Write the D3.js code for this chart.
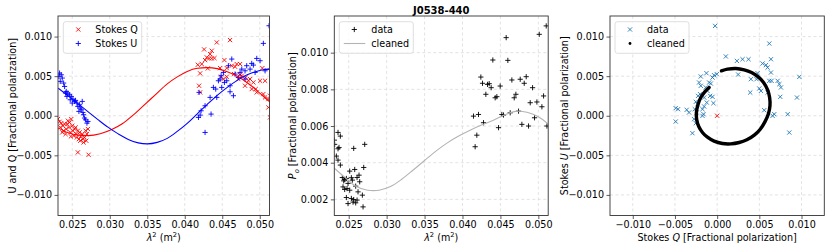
<!DOCTYPE html>
<html><head><meta charset="utf-8">
<script src="https://cdn.jsdelivr.net/npm/d3@7"></script>
<style>
html,body{margin:0;padding:0;background:#fff;}
svg{display:block;font-family:"DejaVu Sans",sans-serif;}
</style></head>
<body><svg id="c" width="830" height="249"></svg>
<script>
// ---------- DATA ----------
const xTicks = [0.025, 0.030, 0.035, 0.040, 0.045, 0.050];
const stokesTicks = [-0.010, -0.005, 0.000, 0.005, 0.010];
const pTicks = [0.002, 0.004, 0.006, 0.008, 0.010];
const qTicks = [-0.010, -0.005, 0.000, 0.005, 0.010];

const lam2Q = [0.02309,0.02331,0.02353,0.02376,0.02398,0.02385,0.02420,0.02442,0.02464,0.02487,0.02500,0.02456,0.02473,0.02509,0.02531,0.02518,0.02553,0.02575,0.02562,0.02598,0.02620,0.02607,0.02642,0.02664,0.02678,0.02696,0.02687,0.02709,0.02651,0.02575,0.02718,0.02367,0.02411,0.02433,0.02544,0.02589,0.02633,0.02482,0.02340,
 0.04427,0.04604,0.04258,0.04360,0.04338,0.04294,0.04325,0.04360,0.04396,0.04271,0.04227,0.04174,0.04205,0.04307,0.04529,0.04471,0.04560,0.04627,0.04671,0.04693,0.04738,0.04658,0.04560,0.04485,0.04516,0.04715,0.04760,0.04813,0.04804,0.04849,0.04915,0.04893,0.04946,0.04960,0.05035,0.05071,0.05004,0.05048,0.05071,0.05115,0.05137,0.05115,0.05137,0.04191,0.04205,0.04738,0.04871];
const stokesQ = [-0.00042,-0.00076,-0.00093,-0.00126,-0.00105,-0.00189,-0.00168,-0.00063,-0.00084,-0.00042,-0.00126,-0.00147,-0.00210,-0.00189,-0.00168,-0.00253,-0.00232,-0.00189,-0.00274,-0.00210,-0.00253,-0.00316,-0.00295,-0.00274,-0.00189,-0.00232,-0.00316,-0.00168,-0.00337,-0.00463,-0.00493,-0.00210,-0.00232,-0.00105,-0.00147,-0.00295,-0.00232,-0.00261,-0.00147,
 0.00926,0.00956,0.00838,0.00821,0.00779,0.00737,0.00724,0.00724,0.00728,0.00703,0.00653,0.00644,0.00535,0.00598,0.00703,0.00602,0.00602,0.00632,0.00619,0.00653,0.00653,0.00526,0.00493,0.00493,0.00463,0.00463,0.00505,0.00484,0.00379,0.00442,0.00421,0.00337,0.00337,0.00295,0.00602,0.00442,0.00442,0.00274,0.00232,0.00211,0.00253,0.00105,-0.00021,0.00379,0.00295,0.00514,0.00463];

const lam2U = [0.02331,0.02353,0.02322,0.02367,0.02340,0.02385,0.02398,0.02420,0.02442,0.02464,0.02487,0.02473,0.02509,0.02531,0.02544,0.02562,0.02575,0.02598,0.02607,0.02620,0.02633,0.02642,0.02651,0.02678,0.02696,0.02709,0.02664,0.02589,0.02500,0.02429,0.02411,
 0.05124,0.05048,0.04960,0.05004,0.04893,0.04826,0.04915,0.04871,0.04804,0.04760,0.04738,0.04671,0.04627,0.04582,0.04516,0.04485,0.04449,0.04471,0.04529,0.04560,0.04382,0.04413,0.04493,0.04338,0.04427,0.04271,0.04218,0.04205,0.04183,0.04351,0.04271,0.04649,0.04604,0.04804,0.04715,0.04938,0.05071,0.05137,0.04191,0.04604];
const stokesU = [0.00539,0.00518,0.00497,0.00476,0.00434,0.00413,0.00370,0.00307,0.00286,0.00265,0.00244,0.00202,0.00211,0.00181,0.00194,0.00160,0.00118,0.00139,0.00097,0.00076,0.00181,0.00042,0.00013,-0.00051,-0.00093,-0.00072,-0.00029,0.00055,0.00160,0.00244,0.00286,
 0.01137,0.00914,0.00724,0.00695,0.00661,0.00632,0.00640,0.00589,0.00568,0.00589,0.00547,0.00526,0.00716,0.00632,0.00547,0.00505,0.00442,0.00463,0.00421,0.00442,0.00358,0.00337,0.00358,0.00232,0.00232,0.00126,0.00063,0.00008,-0.00021,0.00021,-0.00211,0.00253,0.00303,0.00463,0.00484,0.00547,0.00568,0.00589,0.00295,0.00379];

const modelLam2Q = [0.02313,0.02447,0.02580,0.02713,0.02873,0.03033,0.03167,0.03300,0.03447,0.03607,0.03767,0.03900,0.04033,0.04167,0.04300,0.04433,0.04567,0.04700,0.04833,0.04967,0.05047,0.05133];
const modelQ = [-0.00153,-0.00216,-0.00245,-0.00251,-0.00228,-0.00171,-0.00102,-0.00001,0.00125,0.00264,0.00403,0.00491,0.00560,0.00599,0.00608,0.00595,0.00555,0.00498,0.00416,0.00315,0.00245,0.00176];
const modelLam2U = [0.02313,0.02447,0.02580,0.02713,0.02847,0.02980,0.03113,0.03247,0.03380,0.03500,0.03633,0.03767,0.03900,0.04033,0.04167,0.04300,0.04433,0.04567,0.04700,0.04833,0.04967,0.05047,0.05133];
const modelU = [0.00349,0.00251,0.00150,0.00049,-0.00052,-0.00147,-0.00229,-0.00299,-0.00343,-0.00355,-0.00336,-0.00286,-0.00198,-0.00097,0.00024,0.00144,0.00258,0.00359,0.00447,0.00517,0.00561,0.00580,0.00589];

const lam2P = [0.02359,0.02390,0.02315,0.02372,0.02359,0.02566,0.02711,0.02337,0.02359,0.02390,0.02513,0.02579,0.02698,0.02416,0.02447,0.02434,0.02469,0.02535,0.02548,0.02610,0.02636,0.02645,0.02592,0.02491,0.02447,0.02478,0.02623,0.02680,0.02469,0.02535,0.02566,0.02610,0.02557,0.02491,0.02592,0.02689,0.02425,0.02513,0.02311,
 0.05104,0.05012,0.04576,0.04400,0.04598,0.04242,0.04264,0.04330,0.04352,0.04378,0.04497,0.04651,0.04761,0.04840,0.04814,0.04924,0.04308,0.04431,0.04453,0.04682,0.04704,0.04893,0.04981,0.05069,0.05047,0.04145,0.04211,0.04277,0.04519,0.04541,0.04629,0.04739,0.04950,0.04783,0.04871,0.05113,0.04475,0.04167,0.04189];
const polP = [0.00565,0.00545,0.00500,0.00483,0.00476,0.00478,0.00500,0.00436,0.00414,0.00387,0.00354,0.00363,0.00374,0.00319,0.00308,0.00301,0.00314,0.00318,0.00305,0.00319,0.00332,0.00296,0.00272,0.00287,0.00254,0.00259,0.00241,0.00223,0.00210,0.00205,0.00199,0.00196,0.00185,0.00177,0.00181,0.00159,0.00268,0.00250,0.00523,
 0.01146,0.01100,0.01082,0.00960,0.00958,0.00867,0.00833,0.00827,0.00831,0.00809,0.00818,0.00851,0.00855,0.00869,0.00833,0.00809,0.00773,0.00754,0.00760,0.00754,0.00773,0.00727,0.00731,0.00764,0.00705,0.00654,0.00663,0.00618,0.00663,0.00660,0.00672,0.00681,0.00645,0.00609,0.00600,0.00600,0.00591,0.00487,0.00550];

const cleanLam2P = [0.0231,0.0245,0.0260,0.0275,0.0290,0.0305,0.0320,0.0335,0.0350,0.0365,0.0380,0.0395,0.0410,0.0425,0.0440,0.0455,0.0470,0.0485,0.0500,0.0513];
const cleanP = [0.0037,0.0032,0.0027,0.0025,0.0025,0.0027,0.0031,0.0036,0.00412,0.00463,0.00508,0.00545,0.00577,0.00605,0.0063,0.0066,0.0068,0.00675,0.0065,0.0061];

const dataQ = [-0.00024,0.00618,0.00103,0.00234,0.00301,0.00372,0.00539,0.00578,0.00598,0.00638,0.00249,0.00400,0.00479,0.00467,0.00638,0.00618,0.00645,0.00717,0.00737,0.00756,0.00748,0.00946,0.00974,0.00392,0.00499,0.00519,0.00598,0.00558,0.00657,0.00677,0.00836,0.00855,-0.00127,-0.00194,-0.00055,-0.00036,-0.00004,-0.00095,-0.00075,-0.00214,-0.00194,-0.00226,-0.00202,-0.00115,-0.00083,-0.00055,-0.00123,-0.00044,-0.00154,-0.00174,-0.00162,-0.00253,-0.00265,-0.00242,-0.00333,-0.00463,-0.00491,-0.00273,-0.00253,-0.00293,-0.00174,-0.00154,-0.00135,-0.00234,-0.00361,-0.00492];
const dataU = [0.01135,0.00912,0.00749,0.00693,0.00714,0.00714,0.00660,0.00639,0.00609,0.00714,0.00521,0.00462,0.00538,0.00462,0.00546,0.00441,0.00441,0.00441,0.00399,0.00357,0.00239,0.00230,0.00491,0.00293,0.00344,0.00314,0.00293,0.00070,-0.00001,0.00020,0.00020,-0.00212,0.00538,0.00496,0.00483,0.00512,0.00525,0.00420,0.00407,0.00420,0.00378,0.00251,0.00272,0.00314,0.00251,0.00239,0.00167,0.00159,0.00117,0.00083,0.00020,0.00176,0.00083,0.00041,0.00041,0.00083,-0.00073,-0.00043,-0.00094,-0.00220,-0.00001,0.00230,0.00357,0.00146,0.00075,0.00096];

const cleanQ = [-0.00095,-0.00147,-0.00194,-0.00226,-0.00246,-0.00242,-0.00218,-0.00174,-0.00115,-0.00036,0.00063,0.00162,0.00261,0.00352,0.00440,0.00511,0.00566,0.00606,0.00626,0.00622,0.00598,0.00550,0.00487,0.00408,0.00321,0.00222,0.00123,0.00051];
const cleanU = [0.00357,0.00302,0.00230,0.00146,0.00041,-0.00052,-0.00136,-0.00211,-0.00271,-0.00321,-0.00351,-0.00355,-0.00338,-0.00304,-0.00245,-0.00170,-0.00077,0.00020,0.00125,0.00230,0.00327,0.00420,0.00491,0.00546,0.00580,0.00597,0.00588,0.00567];

const originMark = [[0.0, 0.0]];

// ---------- DRAW ----------
const svg = d3.select("#c");
const FS = 9.6;
const Y0 = 16, Y1 = 215.5;
const fmt = v => d3.format(".3f")(v).replace("-", "\u2212");

const panels = [
  {x0:58, x1:269.5, xd:[0.0231,0.0513], yd:[-0.0126,0.0126], xt:xTicks, yt:stokesTicks},
  {x0:334.3, x1:548.2, xd:[0.0231,0.0513], yd:[0.00112,0.0120], xt:xTicks, yt:pTicks},
  {x0:610, x1:824.3, xd:[-0.0127,0.0127], yd:[-0.0126,0.0126], xt:qTicks, yt:stokesTicks}
];

const xMark = "M-2.1,-2.1L2.1,2.1M-2.1,2.1L2.1,-2.1";
const pMark = "M-2.6,0H2.6M0,-2.6V2.6";

panels.forEach((p,i) => {
  p.x = d3.scaleLinear().domain(p.xd).range([p.x0, p.x1]);
  p.y = d3.scaleLinear().domain(p.yd).range([Y1, Y0]);
  const g = svg.append("g");
  p.g = g;
  g.append("g").selectAll("line").data(p.xt).join("line")
    .attr("x1", d=>p.x(d)).attr("x2", d=>p.x(d)).attr("y1", Y0).attr("y2", Y1)
    .attr("stroke", "#dcdcdc").attr("stroke-width", 0.8).attr("stroke-dasharray", "3,2.5");
  g.append("g").selectAll("line").data(p.yt).join("line")
    .attr("y1", d=>p.y(d)).attr("y2", d=>p.y(d)).attr("x1", p.x0).attr("x2", p.x1)
    .attr("stroke", "#dcdcdc").attr("stroke-width", 0.8).attr("stroke-dasharray", "3,2.5");
  const xa = d3.axisBottom(p.x).tickValues(p.xt).tickFormat(fmt).tickSize(3.5).tickPadding(2.5);
  const ya = d3.axisLeft(p.y).tickValues(p.yt).tickFormat(fmt).tickSize(3.5).tickPadding(2.5);
  const gx = g.append("g").attr("transform", `translate(0,${Y1})`).call(xa);
  const gy = g.append("g").attr("transform", `translate(${p.x0},0)`).call(ya);
  [gx, gy].forEach(a => {
    a.select(".domain").remove();
    a.selectAll("text").attr("font-size", FS).attr("font-family", "DejaVu Sans").attr("fill", "#000");
    a.selectAll("line").attr("stroke", "#333").attr("stroke-width", 0.8);
  });
  svg.append("clipPath").attr("id", "clip"+i).append("rect")
    .attr("x", p.x0).attr("y", Y0).attr("width", p.x1-p.x0).attr("height", Y1-Y0);
  p.plot = g.append("g").attr("clip-path", `url(#clip${i})`);
});

// Panel 1
{
  const p = panels[0];
  p.plot.append("g").selectAll("path").data(d3.zip(lam2Q, stokesQ)).join("path")
    .attr("transform", d=>`translate(${p.x(d[0])},${p.y(d[1])})`).attr("d", xMark)
    .attr("stroke", "#ff0000").attr("stroke-width", 0.9).attr("fill", "none");
  p.plot.append("g").selectAll("path").data(d3.zip(lam2U, stokesU)).join("path")
    .attr("transform", d=>`translate(${p.x(d[0])},${p.y(d[1])})`).attr("d", pMark)
    .attr("stroke", "#0000ff").attr("stroke-width", 0.9).attr("fill", "none");
  const lineQ = d3.line().x(d=>p.x(d[0])).y(d=>p.y(d[1])).curve(d3.curveMonotoneX);
  p.plot.append("path").attr("d", lineQ(d3.zip(modelLam2Q, modelQ)))
    .attr("fill","none").attr("stroke","#ff0000").attr("stroke-width",1.1);
  p.plot.append("path").attr("d", lineQ(d3.zip(modelLam2U, modelU)))
    .attr("fill","none").attr("stroke","#0000ff").attr("stroke-width",1.1);
}
// Panel 2
{
  const p = panels[1];
  p.plot.append("g").selectAll("path").data(d3.zip(lam2P, polP)).join("path")
    .attr("transform", d=>`translate(${p.x(d[0])},${p.y(d[1])})`).attr("d", pMark)
    .attr("stroke", "#000").attr("stroke-width", 0.9).attr("fill", "none");
  const line = d3.line().x(d=>p.x(d[0])).y(d=>p.y(d[1])).curve(d3.curveCatmullRom);
  p.plot.append("path").attr("d", line(d3.zip(cleanLam2P, cleanP)))
    .attr("fill","none").attr("stroke","#b4b4b4").attr("stroke-width",1.1);
}
// Panel 3
{
  const p = panels[2];
  p.plot.append("g").selectAll("path").data(d3.zip(dataQ, dataU)).join("path")
    .attr("transform", d=>`translate(${p.x(d[0])},${p.y(d[1])})`).attr("d", xMark)
    .attr("stroke", "#1f77b4").attr("stroke-width", 0.9).attr("fill", "none");
  p.plot.append("g").selectAll("path").data(originMark).join("path")
    .attr("transform", d=>`translate(${p.x(d[0])},${p.y(d[1])})`).attr("d", xMark)
    .attr("stroke", "#ff0000").attr("stroke-width", 0.9).attr("fill", "none");
  const line = d3.line().x(d=>p.x(d[0])).y(d=>p.y(d[1])).curve(d3.curveCatmullRom);
  p.plot.append("path").attr("d", line(d3.zip(cleanQ, cleanU)))
    .attr("fill","none").attr("stroke","#000").attr("stroke-width",3.4).attr("stroke-linecap","round");
}

panels.forEach(p => {
  p.g.append("rect").attr("x", p.x0).attr("y", Y0).attr("width", p.x1-p.x0).attr("height", Y1-Y0)
    .attr("fill","none").attr("stroke","#333").attr("stroke-width",0.9);
});

function xlabel(p, build){
  const t = svg.append("text").attr("x", (p.x0+p.x1)/2).attr("y", 240.5)
    .attr("text-anchor","middle").attr("font-size", FS).attr("fill","#000");
  build(t);
}
function ylabel(x, build){
  const t = svg.append("text").attr("transform", `translate(${x},${(Y0+Y1)/2}) rotate(-90)`)
    .attr("text-anchor","middle").attr("font-size", FS).attr("fill","#000");
  build(t);
}
const lamLabel = t => {
  t.append("tspan").attr("font-style","italic").text("\u03bb");
  t.append("tspan").attr("font-size", FS*0.7).attr("dy", -4).text("2");
  t.append("tspan").attr("dy", 4).text(" (m");
  t.append("tspan").attr("font-size", FS*0.7).attr("dy", -4).text("2");
  t.append("tspan").attr("dy", 4).text(")");
};
xlabel(panels[0], lamLabel);
xlabel(panels[1], lamLabel);
xlabel(panels[2], t => {
  t.append("tspan").text("Stokes ");
  t.append("tspan").attr("font-style","italic").text("Q");
  t.append("tspan").text(" [Fractional polarization]");
});
ylabel(16, t => t.text("U and Q [Fractional polarization]"));
ylabel(296, t => {
  t.append("tspan").attr("font-style","italic").text("P");
  t.append("tspan").attr("font-style","italic").attr("font-size", FS*0.7).attr("dy", 2.5).text("o");
  t.append("tspan").attr("dy", -2.5).text(" [Fractional polarization]");
});
ylabel(568, t => {
  t.append("tspan").text("Stokes ");
  t.append("tspan").attr("font-style","italic").text("U");
  t.append("tspan").text(" [Fractional polarization]");
});

svg.append("text").attr("x", (panels[1].x0+panels[1].x1)/2).attr("y", 13.5)
  .attr("text-anchor","middle").attr("font-size", 10).attr("font-weight","bold").text("J0538-440");

function legend(x, items){
  const g = svg.append("g");
  g.append("rect").attr("x", x).attr("y", 21.7).attr("width", items.w).attr("height", 31.6)
    .attr("rx", 2.5).attr("fill", "#fff").attr("fill-opacity", 0.8).attr("stroke", "#d5d5d5").attr("stroke-width", 0.8);
  items.rows.forEach((r,i) => {
    const cy = 29.5 + i*14;
    if (r.type === "line") {
      g.append("line").attr("x1", x+4.5).attr("x2", x+26).attr("y1", cy).attr("y2", cy)
        .attr("stroke", r.color).attr("stroke-width", 1.1);
    } else if (r.type === "dot") {
      g.append("circle").attr("cx", x+15).attr("cy", cy).attr("r", 1.4).attr("fill", r.color);
    } else {
      g.append("path").attr("transform", `translate(${x+15},${cy})`).attr("d", r.type==="x"?xMark:pMark)
        .attr("stroke", r.color).attr("stroke-width", 0.9).attr("fill","none");
    }
    g.append("text").attr("x", x+32).attr("y", cy+3.5).attr("font-size", FS).text(r.label);
  });
}
legend(63.3, {w:78.4, rows:[{type:"x", color:"#ff0000", label:"Stokes Q"},{type:"+", color:"#0000ff", label:"Stokes U"}]});
legend(339.3, {w:74, rows:[{type:"+", color:"#000", label:"data"},{type:"line", color:"#b4b4b4", label:"cleaned"}]});
legend(615, {w:74, rows:[{type:"x", color:"#1f77b4", label:"data"},{type:"dot", color:"#000", label:"cleaned"}]});
</script></body></html>
